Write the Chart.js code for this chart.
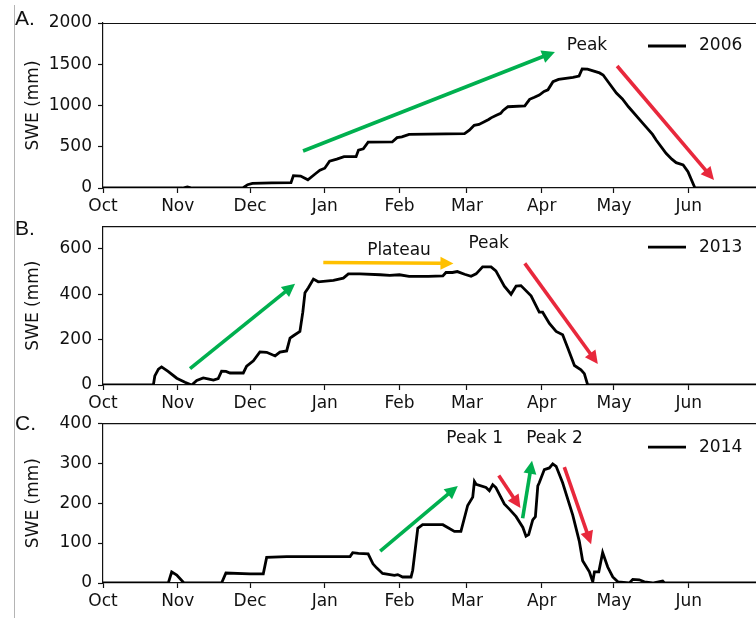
<!DOCTYPE html>
<html><head><meta charset="utf-8">
<script src="https://cdn.jsdelivr.net/npm/chart.js@4"></script>
<style>
html,body{margin:0;padding:0;width:756px;height:618px;overflow:hidden;background:#fff;}
.wrap{position:absolute;left:0;}
.lbl{position:absolute;left:15px;font-family:'Liberation Sans',Arial,sans-serif;font-size:21px;line-height:21px;color:#111;}
#vline{position:absolute;left:14px;top:5px;width:1px;height:613px;background:#b4b4b4;}
</style></head>
<body>
<div id="vline"></div>
<div class="wrap" style="top:0px"><canvas id="cA" width="770" height="222"></canvas></div>
<div class="wrap" style="top:210px"><canvas id="cB" width="770" height="209"></canvas></div>
<div class="wrap" style="top:407px"><canvas id="cC" width="770" height="211"></canvas></div>
<div class="lbl" style="top:7px">A.</div>
<div class="lbl" style="top:217px">B.</div>
<div class="lbl" style="top:412px">C.</div>
<script>
// ---- data (x = days since Oct 1) ----
const monthDays = [0, 31, 61, 92, 123, 151, 182, 212, 243];
const monthLabels = ['Oct', 'Nov', 'Dec', 'Jan', 'Feb', 'Mar', 'Apr', 'May', 'Jun'];

const daysA = [0,33,35,37,58,60,62,70,78,79,82,85,88,90,92,94,97,100,105,106,108,110,120,122,124,127,150,152,154,156,158,160,161,163,165,166,168,175,177,179,181,183,184.6,186.7,189,195,197.5,198.8,201,203,206,207.5,210,213,215.5,218,224,228,229.5,233.6,236,237.8,240.7,242.7,245.6,273];
const sweA  = [0,0,12,0,0,40,55,62,65,150,145,100,170,215,240,325,350,380,380,460,475,555,558,610,620,650,660,700,760,770,800,830,850,880,905,940,985,995,1075,1100,1127,1170,1190,1289,1317,1340,1357,1442,1440,1422,1395,1370,1270,1150,1080,985,784,650,582,420,350,307,279,198,0,0];

const daysB = [0,20.9,21.5,23,24.3,27,30.6,34,36.8,38.9,41.6,44,45.8,47.8,49.2,51,52.7,58.2,59.6,62.4,65.1,67.9,71.4,73.4,76.2,77.6,79,81.7,82.9,83.8,85.2,87.3,89.3,95.6,99.7,101.8,106.6,115,119,123,127,135,141,142.3,145,147,150,152.7,154.8,157.5,161,163,166.5,169.3,171.4,173.4,177.6,181,182.4,185.2,188,190.7,192.8,195.6,198.3,199.7,201.1,273];
const sweB  = [0,0,40,70,80,60,30,12,0,20,31,26,22,28,61,60,53,53,83,107,146,144,128,145,150,207,217,236,321,407,429,467,455,461,471,490,490,486,483,486,479,479,481,496,496,500,488,479,490,521,521,503,436,400,436,438,393,321,321,271,236,221,164,86,67,50,0,0];

const daysC = [0,27.1,28.5,30.6,33.6,49.2,51,61,66.5,67.9,76.2,102.5,103.6,106,110,112,113.5,116,120.9,122.3,124.3,127.8,128.5,130.6,132.6,141,143,145.8,148.5,151.3,153.4,154.1,154.8,158.9,160.3,161.7,163,166.5,168.6,171.4,174.2,175.5,176.6,178.3,179.4,180.4,181,183.1,185.2,186.6,188,190.7,194.9,197.6,199,201.8,203.2,203.9,205.7,207.3,209.4,211.5,213.6,218.4,219.8,222.5,224.6,228,232.2,233,273];
const sweC  = [0,0,28,20,0,0,25,23,23,64,66,66,76,74,73,48,38,24,19,21,15,15,32,137,146,146,139,129,129,194,215,254,247,239,231,246,239,198,185,166,139,117,121,158,166,243,251,284,288,298,292,251,170,105,56,28,3,28,28,76,40,15,3,0,9,8,3,0,5,0,0];

const yTicksA = [0, 500, 1000, 1500, 2000];
const yTicksB = [0, 200, 400, 600];
const yTicksC = [0, 100, 200, 300, 400];

// annotation arrows and labels, in data units (day, SWE)
const arrowsA = [
  {x0: 83, y0: 448, x1: 187.5, y1: 1650, color: '#00b04f'},
  {x0: 213.3, y0: 1479, x1: 253.5, y1: 97, color: '#e8283c'}
];
const textsA = [{text: 'Peak', x: 200.8, y: 1721}];
const arrowsB = [
  {x0: 36.1, y0: 72, x1: 79.7, y1: 446, color: '#00b04f'},
  {x0: 91.4, y0: 540, x1: 145.4, y1: 536, color: '#ffc000'},
  {x0: 175, y0: 536, x1: 205.3, y1: 93, color: '#e8283c'}
];
const textsB = [{text: 'Plateau', x: 122.8, y: 592}, {text: 'Peak', x: 160, y: 624}];
const arrowsC = [
  {x0: 115, y0: 80, x1: 147.2, y1: 243, color: '#00b04f'},
  {x0: 164.2, y0: 269, x1: 173.2, y1: 188, color: '#e8283c'},
  {x0: 174.1, y0: 162, x1: 178, y1: 306, color: '#00b04f'},
  {x0: 191.4, y0: 290, x1: 202.5, y1: 97, color: '#e8283c'}
];
const textsC = [{text: 'Peak 1', x: 154.2, y: 362}, {text: 'Peak 2', x: 187.3, y: 362}];

Chart.defaults.font.family = "'DejaVu Sans', sans-serif";
Chart.defaults.font.size = 17;
Chart.defaults.color = '#111';

function drawArrow(ctx, x0, y0, x1, y1, color) {
  const dx = x1 - x0, dy = y1 - y0, L = Math.hypot(dx, dy);
  const ux = dx / L, uy = dy / L, px = -uy, py = ux;
  const hl = 13, hw = 6.5;
  const bx = x1 - ux * hl, by = y1 - uy * hl;
  ctx.strokeStyle = color; ctx.fillStyle = color;
  ctx.lineWidth = 3.6; ctx.lineCap = 'butt';
  ctx.beginPath(); ctx.moveTo(x0, y0); ctx.lineTo(bx + ux, by + uy); ctx.stroke();
  ctx.beginPath();
  ctx.moveTo(x1, y1);
  ctx.lineTo(bx + px * hw, by + py * hw);
  ctx.lineTo(bx - px * hw, by - py * hw);
  ctx.closePath(); ctx.fill();
}

const annotPlugin = {
  id: 'annot',
  afterDraw(chart, args, opts) {
    const ctx = chart.ctx, ca = chart.chartArea, xs = chart.scales.x, ys = chart.scales.y;
    ctx.save();
    ctx.strokeStyle = '#111'; ctx.lineWidth = 1.2;
    ctx.beginPath(); ctx.moveTo(ca.left, ca.top + 0.5); ctx.lineTo(ca.right, ca.top + 0.5); ctx.stroke();
    for (const a of opts.arrows) {
      drawArrow(ctx, xs.getPixelForValue(a.x0), ys.getPixelForValue(a.y0),
                xs.getPixelForValue(a.x1), ys.getPixelForValue(a.y1), a.color);
    }
    ctx.fillStyle = '#111';
    ctx.font = "17px 'DejaVu Sans'";
    ctx.textAlign = 'center'; ctx.textBaseline = 'middle';
    for (const t of opts.texts) ctx.fillText(t.text, xs.getPixelForValue(t.x), ys.getPixelForValue(t.y));
    // legend
    const ly = ca.top + opts.legendDy;
    ctx.strokeStyle = '#000'; ctx.lineWidth = 2.8;
    ctx.beginPath(); ctx.moveTo(ca.right - 113, ly); ctx.lineTo(ca.right - 75, ly); ctx.stroke();
    ctx.textAlign = 'left';
    ctx.fillText(opts.legendText, ca.right - 62, ly);
    ctx.restore();
  }
};

function makeChart(id, days, swe, label, yMax, yTicks, padTop, xHeight, arrows, texts, legendDy) {
  new Chart(document.getElementById(id), {
    type: 'line',
    data: {
      datasets: [{
        label: label,
        data: days.map((d, i) => ({x: d, y: swe[i]})),
        borderColor: '#000', borderWidth: 2.8, pointRadius: 0, tension: 0, fill: false
      }]
    },
    options: {
      responsive: false, animation: false, devicePixelRatio: 1,
      layout: {padding: {top: padTop, right: 9, left: 0, bottom: 0}},
      plugins: {
        legend: {display: false}, tooltip: {enabled: false},
        annot: {arrows: arrows, texts: texts, legendText: label, legendDy: legendDy}
      },
      scales: {
        x: {
          type: 'linear', min: 0, max: 273,
          afterBuildTicks: s => { s.ticks = monthDays.map(v => ({value: v})); },
          afterFit: s => { s.height = xHeight; },
          ticks: {callback: v => monthLabels[monthDays.indexOf(v)], padding: 3, maxRotation: 0, autoSkip: false, color: '#111'},
          grid: {drawOnChartArea: false, drawTicks: true, tickLength: 5, color: '#111', tickWidth: 1.2},
          border: {display: true, color: '#111', width: 1.2}
        },
        y: {
          type: 'linear', min: 0, max: yMax,
          afterBuildTicks: s => { s.ticks = yTicks.map(v => ({value: v})); },
          afterFit: s => { s.width = 103; },
          ticks: {padding: 6, color: '#111', callback: v => String(v)},
          grid: {drawOnChartArea: false, drawTicks: true, tickLength: 5, color: '#111', tickWidth: 1.2},
          border: {display: true, color: '#111', width: 1.2},
          title: {display: true, text: 'SWE (mm)', color: '#111', font: {size: 17}, padding: {top: 23, bottom: 0}}
        }
      }
    },
    plugins: [annotPlugin]
  });
}

makeChart('cA', daysA, sweA, '2006', 2000, yTicksA, 23, 34, arrowsA, textsA, 23);
makeChart('cB', daysB, sweB, '2013', 700, yTicksB, 12, 34, arrowsB, textsB, 21);
makeChart('cC', daysC, sweC, '2014', 400, yTicksC, 12, 35, arrowsC, textsC, 24);
</script>
</body></html>
